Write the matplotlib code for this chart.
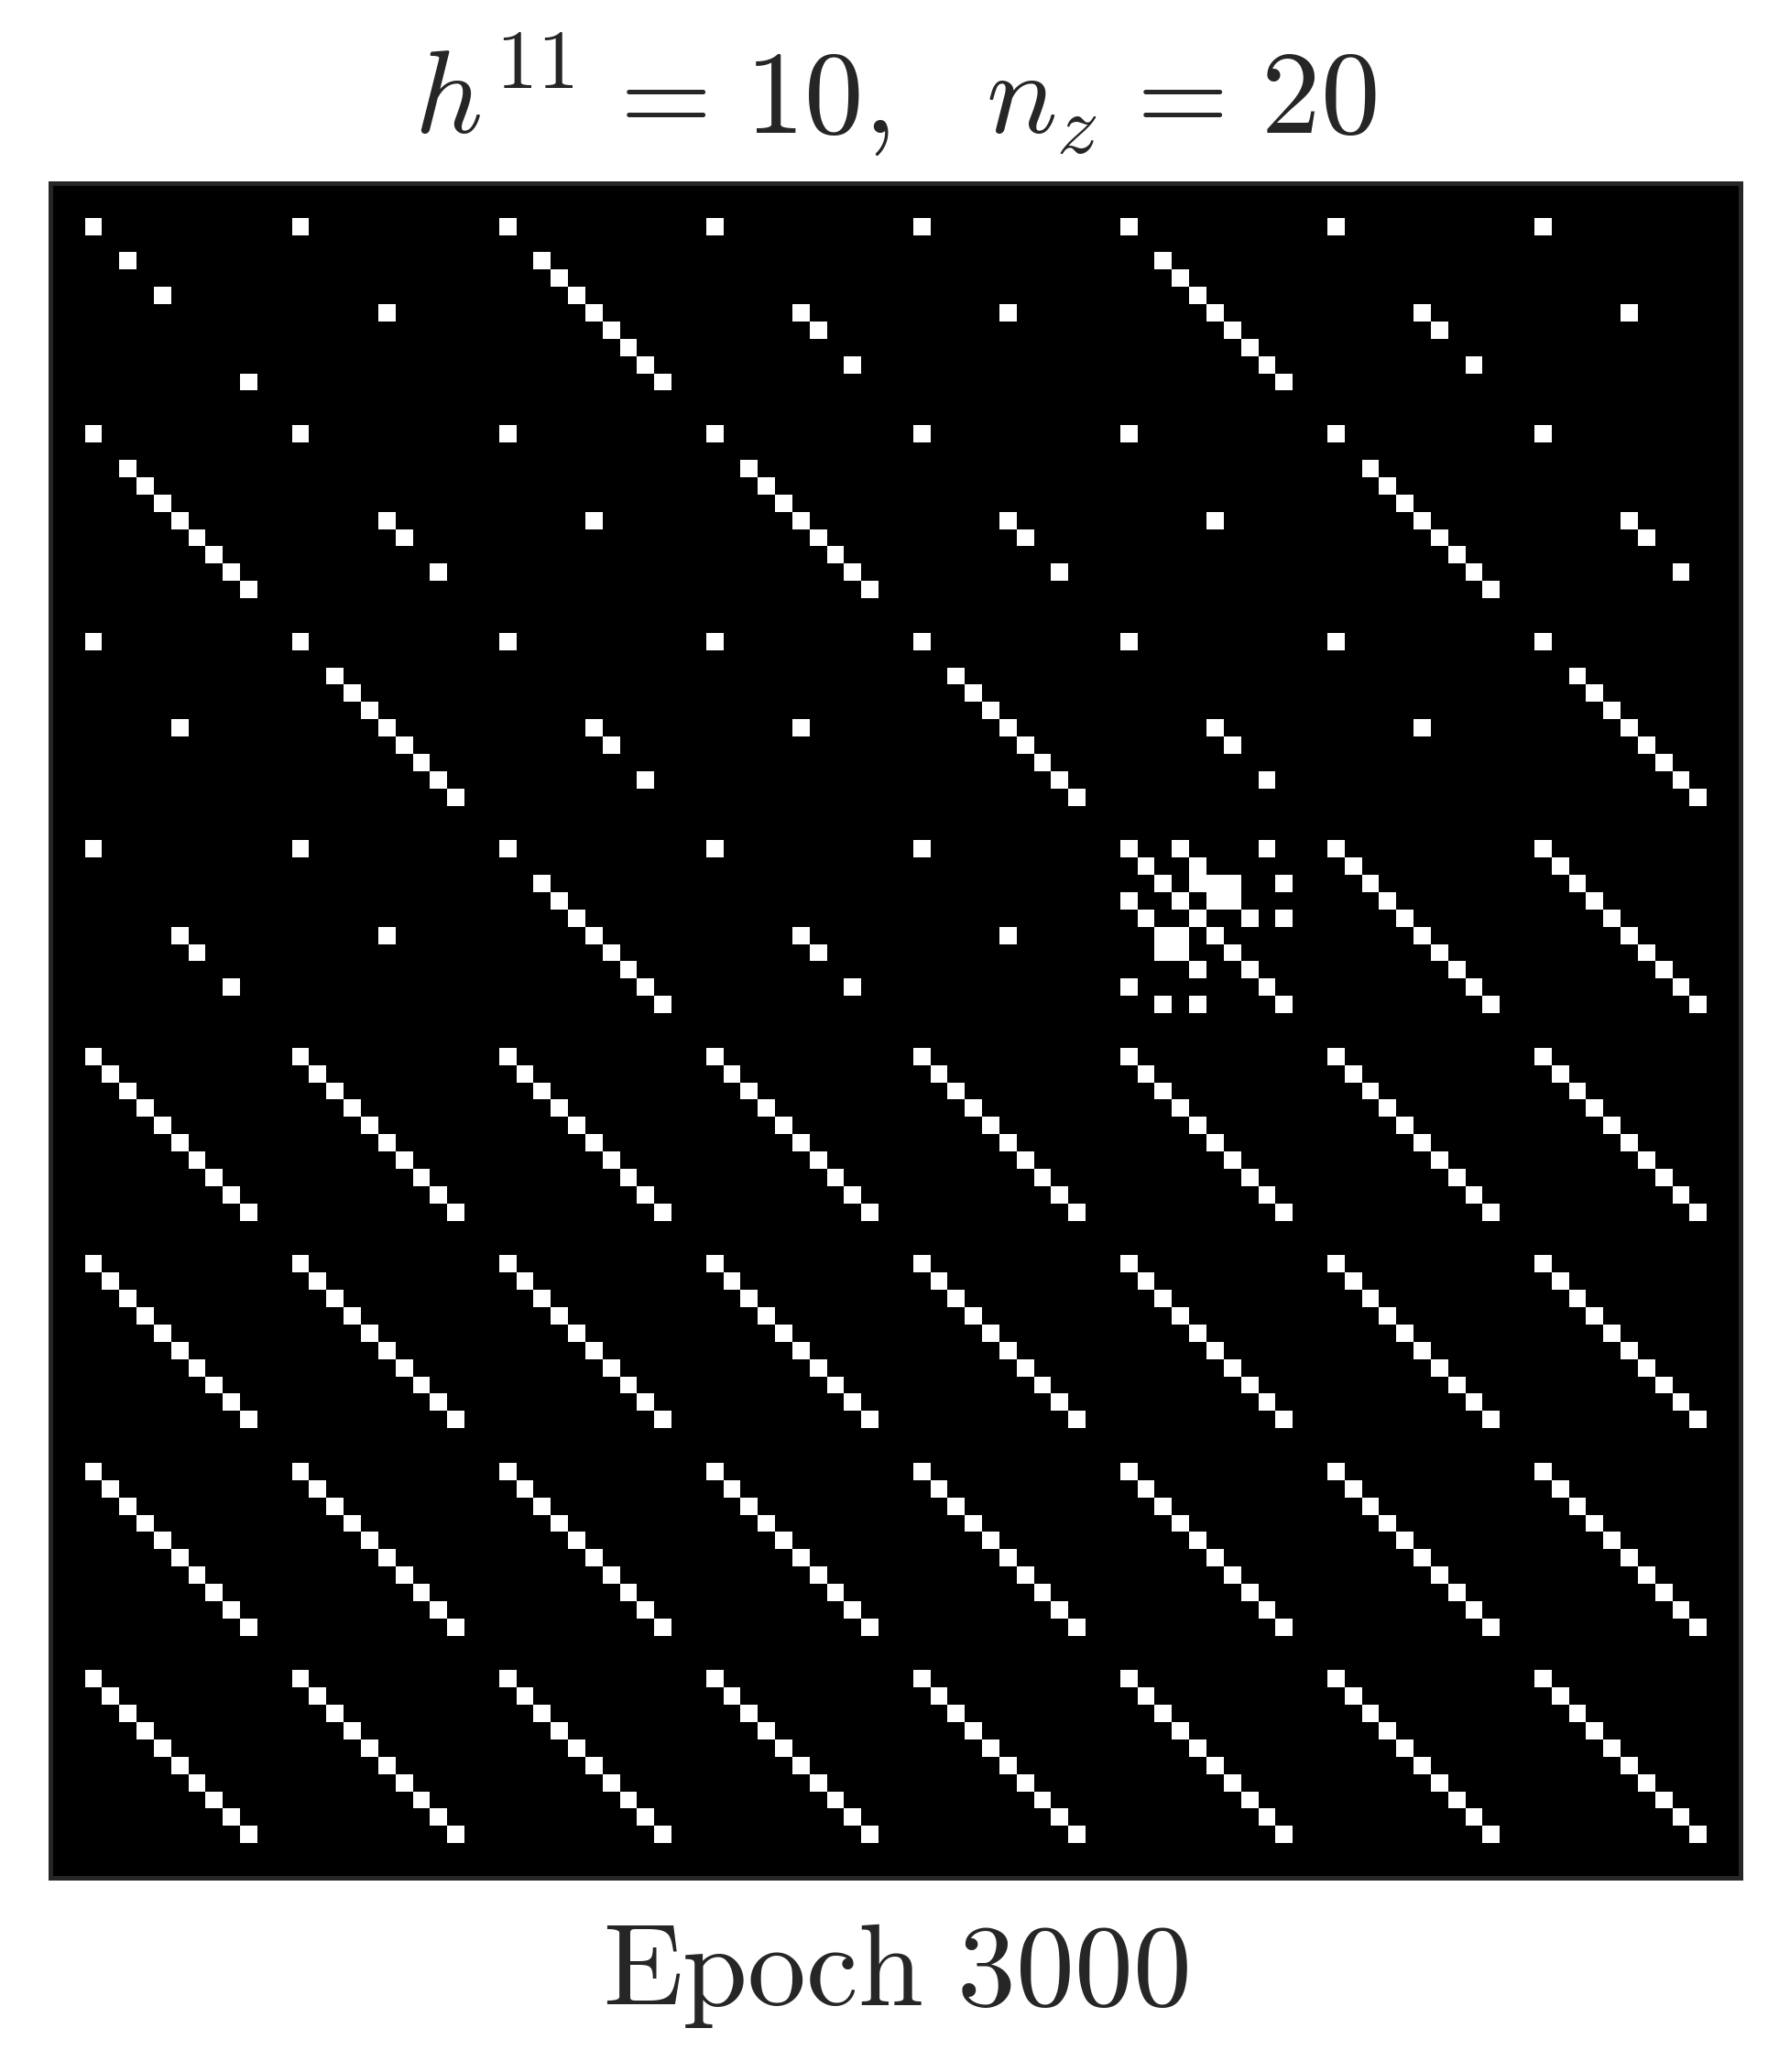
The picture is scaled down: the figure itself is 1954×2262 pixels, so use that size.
import numpy as np
import matplotlib.pyplot as plt

plt.rcParams['mathtext.fontset'] = 'cm'

# matrix is 98x98: 8x8 blocks of 12 cells, shifted by 2 cells
n = 98
n_blocks = 8
block_size = 12
offset = 2

# lit diagonal positions inside a block, per block type
patterns = {
    "X": [0, 2, 4, 9],
    "Q": [0, 5],
    "P": [0, 5, 6, 8],
    "D": [0, 2, 3, 4, 5, 6, 7, 8, 9],
    "I": [0, 1, 2, 3, 4, 5, 6, 7, 8, 9],
}

# block type for every block (W = the non-diagonal block)
block_rows = [
    "XQDPQDPQ",
    "DPQDPQDP",
    "QDPQDPQD",
    "PQDPQWII",
    "IIIIIIII",
    "IIIIIIII",
    "IIIIIIII",
    "IIIIIIII",
]

# lit columns per row in the non-diagonal block
odd_block = [
    [0, 3, 8],
    [1, 4],
    [2, 4, 5, 6, 9],
    [0, 3, 5, 6],
    [1, 4, 7, 9],
    [2, 3, 5],
    [2, 3, 6],
    [4, 7],
    [0, 8],
    [2, 4, 9],
]

h11 = 10
nz = 20
epoch = 3000

mat = np.zeros((n, n))
for bi, row in enumerate(block_rows):
    for bj, kind in enumerate(row):
        r0 = offset + bi * block_size
        c0 = offset + bj * block_size
        if kind == "W":
            for i, cols in enumerate(odd_block):
                for j in cols:
                    mat[r0 + i, c0 + j] = 1
        else:
            for k in patterns[kind]:
                mat[r0 + k, c0 + k] = 1

fig = plt.figure(figsize=(9.77, 11.31), dpi=200)
ax = fig.add_axes([0.0279, 0.0939, 0.9447, 0.8175])
ax.imshow(mat, cmap='gray', vmin=0, vmax=1, interpolation='nearest', aspect='auto')
ax.set_xticks([])
ax.set_yticks([])
for s in ax.spines.values():
    s.set_color('#262626')
    s.set_linewidth(1.8)

sp = r"\hspace{0.12}"
title = rf"$h^{{11}} {sp}={sp} {h11}, \ \ n_z {sp}={sp} {nz}$"
ax.set_title(title, fontsize=46.5, color='#262626', pad=20)
ax.set_xlabel(rf"$\mathrm{{Epoch\ {epoch}}}$", fontsize=46, color='#262626', labelpad=15)

fig.savefig('out.png', dpi=200)
